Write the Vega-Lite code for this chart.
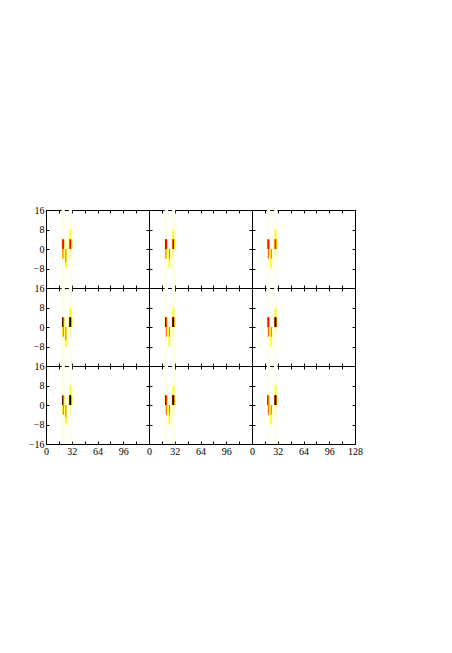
{
  "$schema": "https://vega.github.io/schema/vega-lite/v6.json",
  "padding": {"left": 28, "top": 205, "right": 5, "bottom": 5},
  "background": "white",
  "data": {"values": [
    {"p":"11","x0":19.5,"x1":23.5,"y0":-16,"y1":16,"v":0.03},
    {"p":"11","x0":28.5,"x1":32.5,"y0":-16,"y1":16,"v":0.03},
    {"p":"11","x0":20,"x1":23,"y0":-4,"y1":0,"v":0.3},
    {"p":"11","x0":23.5,"x1":26,"y0":-8,"y1":0,"v":0.3},
    {"p":"11","x0":29,"x1":31.5,"y0":4,"y1":8,"v":0.32},
    {"p":"11","x0":29,"x1":31,"y0":-4,"y1":0,"v":0.15},
    {"p":"11","x0":19.5,"x1":23,"y0":0,"y1":4,"v":0.35},
    {"p":"11","x0":20,"x1":22.5,"y0":0,"y1":4,"v":0.68},
    {"p":"11","x0":20.5,"x1":21.5,"y0":-4,"y1":0,"v":0.6},
    {"p":"11","x0":24.2,"x1":25.2,"y0":-5.5,"y1":0,"v":0.6},
    {"p":"11","x0":28,"x1":33,"y0":0,"y1":4,"v":0.35},
    {"p":"11","x0":29,"x1":31.2,"y0":0,"y1":4,"v":0.68},

    {"p":"12","x0":19.5,"x1":23.5,"y0":-16,"y1":16,"v":0.03},
    {"p":"12","x0":28.5,"x1":32.5,"y0":-16,"y1":16,"v":0.03},
    {"p":"12","x0":20,"x1":23,"y0":-4,"y1":0,"v":0.3},
    {"p":"12","x0":24,"x1":26.5,"y0":-8,"y1":0,"v":0.3},
    {"p":"12","x0":29,"x1":31.5,"y0":4,"y1":8,"v":0.32},
    {"p":"12","x0":29,"x1":31,"y0":-4,"y1":0,"v":0.15},
    {"p":"12","x0":19.5,"x1":23,"y0":0,"y1":4,"v":0.35},
    {"p":"12","x0":20,"x1":22.5,"y0":0,"y1":4,"v":0.68},
    {"p":"12","x0":20,"x1":20.8,"y0":0,"y1":4,"v":0.8},
    {"p":"12","x0":20.5,"x1":21.5,"y0":-4,"y1":0,"v":0.6},
    {"p":"12","x0":24.8,"x1":25.8,"y0":-4,"y1":0,"v":0.6},
    {"p":"12","x0":28,"x1":33,"y0":0,"y1":4,"v":0.35},
    {"p":"12","x0":29,"x1":31.2,"y0":0,"y1":4,"v":0.68},
    {"p":"12","x0":29.7,"x1":30.6,"y0":0,"y1":4,"v":0.82},

    {"p":"13","x0":18.5,"x1":22.5,"y0":-16,"y1":16,"v":0.03},
    {"p":"13","x0":27.5,"x1":31.5,"y0":-16,"y1":16,"v":0.03},
    {"p":"13","x0":19,"x1":22,"y0":-4,"y1":0,"v":0.3},
    {"p":"13","x0":22.5,"x1":25,"y0":-8,"y1":0,"v":0.3},
    {"p":"13","x0":28,"x1":30.5,"y0":4,"y1":8,"v":0.32},
    {"p":"13","x0":28,"x1":30,"y0":-4,"y1":0,"v":0.15},
    {"p":"13","x0":18.5,"x1":22,"y0":0,"y1":4,"v":0.35},
    {"p":"13","x0":19,"x1":21.5,"y0":0,"y1":4,"v":0.68},
    {"p":"13","x0":20,"x1":21,"y0":-4,"y1":0,"v":0.6},
    {"p":"13","x0":23.4,"x1":24.4,"y0":-4,"y1":0,"v":0.6},
    {"p":"13","x0":27,"x1":32,"y0":0,"y1":4,"v":0.35},
    {"p":"13","x0":28,"x1":30.2,"y0":0,"y1":4,"v":0.68},

    {"p":"21","x0":19.5,"x1":23.5,"y0":-16,"y1":16,"v":0.03},
    {"p":"21","x0":28.5,"x1":32.5,"y0":-16,"y1":16,"v":0.03},
    {"p":"21","x0":20,"x1":23,"y0":-4,"y1":0,"v":0.3},
    {"p":"21","x0":23.5,"x1":26,"y0":-8,"y1":0,"v":0.3},
    {"p":"21","x0":29,"x1":31.5,"y0":4,"y1":8,"v":0.32},
    {"p":"21","x0":29,"x1":31,"y0":-4,"y1":0,"v":0.15},
    {"p":"21","x0":19.5,"x1":23,"y0":0,"y1":4,"v":0.35},
    {"p":"21","x0":20,"x1":21.2,"y0":0,"y1":4,"v":0.92},
    {"p":"21","x0":21.2,"x1":22.5,"y0":0,"y1":4,"v":0.62},
    {"p":"21","x0":21,"x1":22,"y0":-4,"y1":0,"v":0.6},
    {"p":"21","x0":24.2,"x1":25.2,"y0":-5.5,"y1":0,"v":0.6},
    {"p":"21","x0":28,"x1":33,"y0":0,"y1":4,"v":0.35},
    {"p":"21","x0":28.8,"x1":31.5,"y0":0,"y1":4,"v":0.8},
    {"p":"21","x0":29.3,"x1":31,"y0":0,"y1":4,"v":1},

    {"p":"22","x0":19.5,"x1":23.5,"y0":-16,"y1":16,"v":0.03},
    {"p":"22","x0":28.5,"x1":32.5,"y0":-16,"y1":16,"v":0.03},
    {"p":"22","x0":20,"x1":23,"y0":-4,"y1":0,"v":0.3},
    {"p":"22","x0":24,"x1":26.5,"y0":-8,"y1":0,"v":0.3},
    {"p":"22","x0":29,"x1":31.5,"y0":4,"y1":8,"v":0.32},
    {"p":"22","x0":29,"x1":31,"y0":-4,"y1":0,"v":0.15},
    {"p":"22","x0":19.5,"x1":23,"y0":0,"y1":4,"v":0.35},
    {"p":"22","x0":20,"x1":21.2,"y0":0,"y1":4,"v":0.92},
    {"p":"22","x0":21.2,"x1":22.5,"y0":0,"y1":4,"v":0.62},
    {"p":"22","x0":21,"x1":22,"y0":-4,"y1":0,"v":0.6},
    {"p":"22","x0":24.8,"x1":25.8,"y0":-4,"y1":0,"v":0.6},
    {"p":"22","x0":28,"x1":33,"y0":0,"y1":4,"v":0.35},
    {"p":"22","x0":28.8,"x1":31.5,"y0":0,"y1":4,"v":0.8},
    {"p":"22","x0":29.3,"x1":31,"y0":0,"y1":4,"v":1},

    {"p":"23","x0":18.5,"x1":22.5,"y0":-16,"y1":16,"v":0.03},
    {"p":"23","x0":27.5,"x1":31.5,"y0":-16,"y1":16,"v":0.03},
    {"p":"23","x0":19,"x1":22,"y0":-4,"y1":0,"v":0.3},
    {"p":"23","x0":22.5,"x1":25,"y0":-8,"y1":0,"v":0.3},
    {"p":"23","x0":28,"x1":30.5,"y0":4,"y1":8,"v":0.32},
    {"p":"23","x0":28,"x1":30,"y0":-4,"y1":0,"v":0.15},
    {"p":"23","x0":18.5,"x1":22,"y0":0,"y1":4,"v":0.35},
    {"p":"23","x0":19,"x1":21.5,"y0":0,"y1":4,"v":0.68},
    {"p":"23","x0":20,"x1":21,"y0":-4,"y1":0,"v":0.6},
    {"p":"23","x0":23.4,"x1":24.4,"y0":-4,"y1":0,"v":0.6},
    {"p":"23","x0":27,"x1":32,"y0":0,"y1":4,"v":0.35},
    {"p":"23","x0":27.8,"x1":30.5,"y0":0,"y1":4,"v":0.8},
    {"p":"23","x0":28.3,"x1":30,"y0":0,"y1":4,"v":1},

    {"p":"31","x0":19.5,"x1":23.5,"y0":-16,"y1":16,"v":0.03},
    {"p":"31","x0":28.5,"x1":32.5,"y0":-16,"y1":16,"v":0.03},
    {"p":"31","x0":20,"x1":23,"y0":-4,"y1":0,"v":0.3},
    {"p":"31","x0":23.5,"x1":26,"y0":-8,"y1":0,"v":0.3},
    {"p":"31","x0":29,"x1":31.5,"y0":4,"y1":8,"v":0.32},
    {"p":"31","x0":29,"x1":31,"y0":-4,"y1":0,"v":0.15},
    {"p":"31","x0":19.5,"x1":23,"y0":0,"y1":4,"v":0.35},
    {"p":"31","x0":20,"x1":21.2,"y0":0,"y1":4,"v":0.9},
    {"p":"31","x0":21.2,"x1":22.5,"y0":0,"y1":4,"v":0.58},
    {"p":"31","x0":21,"x1":22,"y0":-4,"y1":0,"v":0.6},
    {"p":"31","x0":24.2,"x1":25.2,"y0":-5,"y1":0,"v":0.6},
    {"p":"31","x0":28,"x1":33,"y0":0,"y1":4,"v":0.35},
    {"p":"31","x0":28.8,"x1":31.5,"y0":0,"y1":4,"v":0.8},
    {"p":"31","x0":29.3,"x1":31,"y0":0,"y1":4,"v":1},

    {"p":"32","x0":19.5,"x1":23.5,"y0":-16,"y1":16,"v":0.03},
    {"p":"32","x0":28.5,"x1":32.5,"y0":-16,"y1":16,"v":0.03},
    {"p":"32","x0":20,"x1":23,"y0":-4,"y1":0,"v":0.3},
    {"p":"32","x0":24,"x1":26.5,"y0":-8,"y1":0,"v":0.3},
    {"p":"32","x0":29,"x1":31.5,"y0":4,"y1":8,"v":0.32},
    {"p":"32","x0":29,"x1":31,"y0":-4,"y1":0,"v":0.15},
    {"p":"32","x0":19.5,"x1":23,"y0":0,"y1":4,"v":0.35},
    {"p":"32","x0":20,"x1":21.2,"y0":0,"y1":4,"v":0.92},
    {"p":"32","x0":21.2,"x1":22.5,"y0":0,"y1":4,"v":0.62},
    {"p":"32","x0":21,"x1":22,"y0":-4,"y1":0,"v":0.6},
    {"p":"32","x0":24.8,"x1":25.8,"y0":-4,"y1":0,"v":0.6},
    {"p":"32","x0":28,"x1":33,"y0":0,"y1":4,"v":0.35},
    {"p":"32","x0":28.8,"x1":31.5,"y0":0,"y1":4,"v":0.8},
    {"p":"32","x0":29.3,"x1":31,"y0":0,"y1":4,"v":1},

    {"p":"33","x0":18.5,"x1":22.5,"y0":-16,"y1":16,"v":0.03},
    {"p":"33","x0":27.5,"x1":31.5,"y0":-16,"y1":16,"v":0.03},
    {"p":"33","x0":19,"x1":22,"y0":-4,"y1":0,"v":0.3},
    {"p":"33","x0":22.5,"x1":25,"y0":-8,"y1":0,"v":0.3},
    {"p":"33","x0":28,"x1":30.5,"y0":4,"y1":8,"v":0.32},
    {"p":"33","x0":28,"x1":30,"y0":-4,"y1":0,"v":0.15},
    {"p":"33","x0":18.5,"x1":22,"y0":0,"y1":4,"v":0.35},
    {"p":"33","x0":19,"x1":20.2,"y0":0,"y1":4,"v":0.88},
    {"p":"33","x0":20.2,"x1":21.5,"y0":0,"y1":4,"v":0.56},
    {"p":"33","x0":20,"x1":21,"y0":-4,"y1":0,"v":0.6},
    {"p":"33","x0":23.4,"x1":24.4,"y0":-4,"y1":0,"v":0.6},
    {"p":"33","x0":27,"x1":32,"y0":0,"y1":4,"v":0.35},
    {"p":"33","x0":27.8,"x1":30.5,"y0":0,"y1":4,"v":0.8},
    {"p":"33","x0":28.3,"x1":30,"y0":0,"y1":4,"v":1}
  ]},
  "columns": 3,
  "spacing": 0,
  "bounds": "flush",
  "concat": [
    {"width":103,"height":78,"transform":[{"filter":"datum.p=='11'"}],
     "layer":[
      {"mark":"rect","encoding":{
        "x":{"field":"x0","type":"quantitative","scale":{"domain":[0,128],"nice":false,"zero":false},"axis":{"orient":"bottom","values":[0,16,32,48,64,80,96,112,128],"labels":false,"title":null}},
        "x2":{"field":"x1"},
        "y":{"field":"y0","type":"quantitative","scale":{"domain":[-16,16],"nice":false,"zero":false},"axis":{"orient":"left","values":[-16,-8,0,8,16],"labelExpr":"datum.value == -16 ? '' : datum.label","title":null}},
        "y2":{"field":"y1"},
        "color":{"field":"v","type":"quantitative","scale":{"domain":[0,0.35,0.7,1],"range":["#ffffff","#ffff00","#ff0000","#000000"],"interpolate":"rgb"},"legend":null}}},
      {"mark":{"type":"point","opacity":0},"encoding":{
        "x":{"field":"x0","type":"quantitative","scale":{"domain":[0,128],"nice":false,"zero":false},"axis":{"orient":"top","values":[0,16,32,48,64,80,96,112,128],"labels":false,"title":null}},
        "y":{"field":"y0","type":"quantitative","scale":{"domain":[-16,16],"nice":false,"zero":false},"axis":{"orient":"right","values":[-16,-8,0,8,16],"labels":false,"title":null}}}}
     ],
     "resolve":{"axis":{"x":"independent","y":"independent"}}},
    {"width":103,"height":78,"transform":[{"filter":"datum.p=='12'"}],
     "layer":[
      {"mark":"rect","encoding":{
        "x":{"field":"x0","type":"quantitative","scale":{"domain":[0,128],"nice":false,"zero":false},"axis":{"orient":"bottom","values":[0,16,32,48,64,80,96,112,128],"labels":false,"title":null}},
        "x2":{"field":"x1"},
        "y":{"field":"y0","type":"quantitative","scale":{"domain":[-16,16],"nice":false,"zero":false},"axis":{"orient":"left","values":[-16,-8,0,8,16],"labels":false,"title":null}},
        "y2":{"field":"y1"},
        "color":{"field":"v","type":"quantitative","scale":{"domain":[0,0.35,0.7,1],"range":["#ffffff","#ffff00","#ff0000","#000000"],"interpolate":"rgb"},"legend":null}}},
      {"mark":{"type":"point","opacity":0},"encoding":{
        "x":{"field":"x0","type":"quantitative","scale":{"domain":[0,128],"nice":false,"zero":false},"axis":{"orient":"top","values":[0,16,32,48,64,80,96,112,128],"labels":false,"title":null}},
        "y":{"field":"y0","type":"quantitative","scale":{"domain":[-16,16],"nice":false,"zero":false},"axis":{"orient":"right","values":[-16,-8,0,8,16],"labels":false,"title":null}}}}
     ],
     "resolve":{"axis":{"x":"independent","y":"independent"}}},
    {"width":103,"height":78,"transform":[{"filter":"datum.p=='13'"}],
     "layer":[
      {"mark":"rect","encoding":{
        "x":{"field":"x0","type":"quantitative","scale":{"domain":[0,128],"nice":false,"zero":false},"axis":{"orient":"bottom","values":[0,16,32,48,64,80,96,112,128],"labels":false,"title":null}},
        "x2":{"field":"x1"},
        "y":{"field":"y0","type":"quantitative","scale":{"domain":[-16,16],"nice":false,"zero":false},"axis":{"orient":"left","values":[-16,-8,0,8,16],"labels":false,"title":null}},
        "y2":{"field":"y1"},
        "color":{"field":"v","type":"quantitative","scale":{"domain":[0,0.35,0.7,1],"range":["#ffffff","#ffff00","#ff0000","#000000"],"interpolate":"rgb"},"legend":null}}},
      {"mark":{"type":"point","opacity":0},"encoding":{
        "x":{"field":"x0","type":"quantitative","scale":{"domain":[0,128],"nice":false,"zero":false},"axis":{"orient":"top","values":[0,16,32,48,64,80,96,112,128],"labels":false,"title":null}},
        "y":{"field":"y0","type":"quantitative","scale":{"domain":[-16,16],"nice":false,"zero":false},"axis":{"orient":"right","values":[-16,-8,0,8,16],"labels":false,"title":null}}}}
     ],
     "resolve":{"axis":{"x":"independent","y":"independent"}}},
    {"width":103,"height":78,"transform":[{"filter":"datum.p=='21'"}],
     "layer":[
      {"mark":"rect","encoding":{
        "x":{"field":"x0","type":"quantitative","scale":{"domain":[0,128],"nice":false,"zero":false},"axis":{"orient":"bottom","values":[0,16,32,48,64,80,96,112,128],"labels":false,"title":null}},
        "x2":{"field":"x1"},
        "y":{"field":"y0","type":"quantitative","scale":{"domain":[-16,16],"nice":false,"zero":false},"axis":{"orient":"left","values":[-16,-8,0,8,16],"labelExpr":"datum.value == -16 ? '' : datum.label","title":null}},
        "y2":{"field":"y1"},
        "color":{"field":"v","type":"quantitative","scale":{"domain":[0,0.35,0.7,1],"range":["#ffffff","#ffff00","#ff0000","#000000"],"interpolate":"rgb"},"legend":null}}},
      {"mark":{"type":"point","opacity":0},"encoding":{
        "x":{"field":"x0","type":"quantitative","scale":{"domain":[0,128],"nice":false,"zero":false},"axis":{"orient":"top","values":[0,16,32,48,64,80,96,112,128],"labels":false,"title":null}},
        "y":{"field":"y0","type":"quantitative","scale":{"domain":[-16,16],"nice":false,"zero":false},"axis":{"orient":"right","values":[-16,-8,0,8,16],"labels":false,"title":null}}}}
     ],
     "resolve":{"axis":{"x":"independent","y":"independent"}}},
    {"width":103,"height":78,"transform":[{"filter":"datum.p=='22'"}],
     "layer":[
      {"mark":"rect","encoding":{
        "x":{"field":"x0","type":"quantitative","scale":{"domain":[0,128],"nice":false,"zero":false},"axis":{"orient":"bottom","values":[0,16,32,48,64,80,96,112,128],"labels":false,"title":null}},
        "x2":{"field":"x1"},
        "y":{"field":"y0","type":"quantitative","scale":{"domain":[-16,16],"nice":false,"zero":false},"axis":{"orient":"left","values":[-16,-8,0,8,16],"labels":false,"title":null}},
        "y2":{"field":"y1"},
        "color":{"field":"v","type":"quantitative","scale":{"domain":[0,0.35,0.7,1],"range":["#ffffff","#ffff00","#ff0000","#000000"],"interpolate":"rgb"},"legend":null}}},
      {"mark":{"type":"point","opacity":0},"encoding":{
        "x":{"field":"x0","type":"quantitative","scale":{"domain":[0,128],"nice":false,"zero":false},"axis":{"orient":"top","values":[0,16,32,48,64,80,96,112,128],"labels":false,"title":null}},
        "y":{"field":"y0","type":"quantitative","scale":{"domain":[-16,16],"nice":false,"zero":false},"axis":{"orient":"right","values":[-16,-8,0,8,16],"labels":false,"title":null}}}}
     ],
     "resolve":{"axis":{"x":"independent","y":"independent"}}},
    {"width":103,"height":78,"transform":[{"filter":"datum.p=='23'"}],
     "layer":[
      {"mark":"rect","encoding":{
        "x":{"field":"x0","type":"quantitative","scale":{"domain":[0,128],"nice":false,"zero":false},"axis":{"orient":"bottom","values":[0,16,32,48,64,80,96,112,128],"labels":false,"title":null}},
        "x2":{"field":"x1"},
        "y":{"field":"y0","type":"quantitative","scale":{"domain":[-16,16],"nice":false,"zero":false},"axis":{"orient":"left","values":[-16,-8,0,8,16],"labels":false,"title":null}},
        "y2":{"field":"y1"},
        "color":{"field":"v","type":"quantitative","scale":{"domain":[0,0.35,0.7,1],"range":["#ffffff","#ffff00","#ff0000","#000000"],"interpolate":"rgb"},"legend":null}}},
      {"mark":{"type":"point","opacity":0},"encoding":{
        "x":{"field":"x0","type":"quantitative","scale":{"domain":[0,128],"nice":false,"zero":false},"axis":{"orient":"top","values":[0,16,32,48,64,80,96,112,128],"labels":false,"title":null}},
        "y":{"field":"y0","type":"quantitative","scale":{"domain":[-16,16],"nice":false,"zero":false},"axis":{"orient":"right","values":[-16,-8,0,8,16],"labels":false,"title":null}}}}
     ],
     "resolve":{"axis":{"x":"independent","y":"independent"}}},
    {"width":103,"height":78,"transform":[{"filter":"datum.p=='31'"}],
     "layer":[
      {"mark":"rect","encoding":{
        "x":{"field":"x0","type":"quantitative","scale":{"domain":[0,128],"nice":false,"zero":false},"axis":{"orient":"bottom","values":[0,16,32,48,64,80,96,112,128],"labelExpr":"datum.value % 32 == 0 && datum.value < 128 ? datum.label : ''","title":null}},
        "x2":{"field":"x1"},
        "y":{"field":"y0","type":"quantitative","scale":{"domain":[-16,16],"nice":false,"zero":false},"axis":{"orient":"left","values":[-16,-8,0,8,16],"title":null}},
        "y2":{"field":"y1"},
        "color":{"field":"v","type":"quantitative","scale":{"domain":[0,0.35,0.7,1],"range":["#ffffff","#ffff00","#ff0000","#000000"],"interpolate":"rgb"},"legend":null}}},
      {"mark":{"type":"point","opacity":0},"encoding":{
        "x":{"field":"x0","type":"quantitative","scale":{"domain":[0,128],"nice":false,"zero":false},"axis":{"orient":"top","values":[0,16,32,48,64,80,96,112,128],"labels":false,"title":null}},
        "y":{"field":"y0","type":"quantitative","scale":{"domain":[-16,16],"nice":false,"zero":false},"axis":{"orient":"right","values":[-16,-8,0,8,16],"labels":false,"title":null}}}}
     ],
     "resolve":{"axis":{"x":"independent","y":"independent"}}},
    {"width":103,"height":78,"transform":[{"filter":"datum.p=='32'"}],
     "layer":[
      {"mark":"rect","encoding":{
        "x":{"field":"x0","type":"quantitative","scale":{"domain":[0,128],"nice":false,"zero":false},"axis":{"orient":"bottom","values":[0,16,32,48,64,80,96,112,128],"labelExpr":"datum.value % 32 == 0 && datum.value < 128 ? datum.label : ''","title":null}},
        "x2":{"field":"x1"},
        "y":{"field":"y0","type":"quantitative","scale":{"domain":[-16,16],"nice":false,"zero":false},"axis":{"orient":"left","values":[-16,-8,0,8,16],"labels":false,"title":null}},
        "y2":{"field":"y1"},
        "color":{"field":"v","type":"quantitative","scale":{"domain":[0,0.35,0.7,1],"range":["#ffffff","#ffff00","#ff0000","#000000"],"interpolate":"rgb"},"legend":null}}},
      {"mark":{"type":"point","opacity":0},"encoding":{
        "x":{"field":"x0","type":"quantitative","scale":{"domain":[0,128],"nice":false,"zero":false},"axis":{"orient":"top","values":[0,16,32,48,64,80,96,112,128],"labels":false,"title":null}},
        "y":{"field":"y0","type":"quantitative","scale":{"domain":[-16,16],"nice":false,"zero":false},"axis":{"orient":"right","values":[-16,-8,0,8,16],"labels":false,"title":null}}}}
     ],
     "resolve":{"axis":{"x":"independent","y":"independent"}}},
    {"width":103,"height":78,"transform":[{"filter":"datum.p=='33'"}],
     "layer":[
      {"mark":"rect","encoding":{
        "x":{"field":"x0","type":"quantitative","scale":{"domain":[0,128],"nice":false,"zero":false},"axis":{"orient":"bottom","values":[0,16,32,48,64,80,96,112,128],"labelExpr":"datum.value % 32 == 0 ? datum.label : ''","title":null}},
        "x2":{"field":"x1"},
        "y":{"field":"y0","type":"quantitative","scale":{"domain":[-16,16],"nice":false,"zero":false},"axis":{"orient":"left","values":[-16,-8,0,8,16],"labels":false,"title":null}},
        "y2":{"field":"y1"},
        "color":{"field":"v","type":"quantitative","scale":{"domain":[0,0.35,0.7,1],"range":["#ffffff","#ffff00","#ff0000","#000000"],"interpolate":"rgb"},"legend":null}}},
      {"mark":{"type":"point","opacity":0},"encoding":{
        "x":{"field":"x0","type":"quantitative","scale":{"domain":[0,128],"nice":false,"zero":false},"axis":{"orient":"top","values":[0,16,32,48,64,80,96,112,128],"labels":false,"title":null}},
        "y":{"field":"y0","type":"quantitative","scale":{"domain":[-16,16],"nice":false,"zero":false},"axis":{"orient":"right","values":[-16,-8,0,8,16],"labels":false,"title":null}}}}
     ],
     "resolve":{"axis":{"x":"independent","y":"independent"}}}
  ],
  "config": {
    "view": {"stroke": null},
    "axis": {"labelFont": "Liberation Serif", "labelFontSize": 10, "labelColor": "black", "domainColor": "black", "domainWidth": 1, "tickColor": "black", "tickSize": -3, "labelPadding": 5, "grid": false, "labelFlush": false, "labelOverlap": false}
  }
}
